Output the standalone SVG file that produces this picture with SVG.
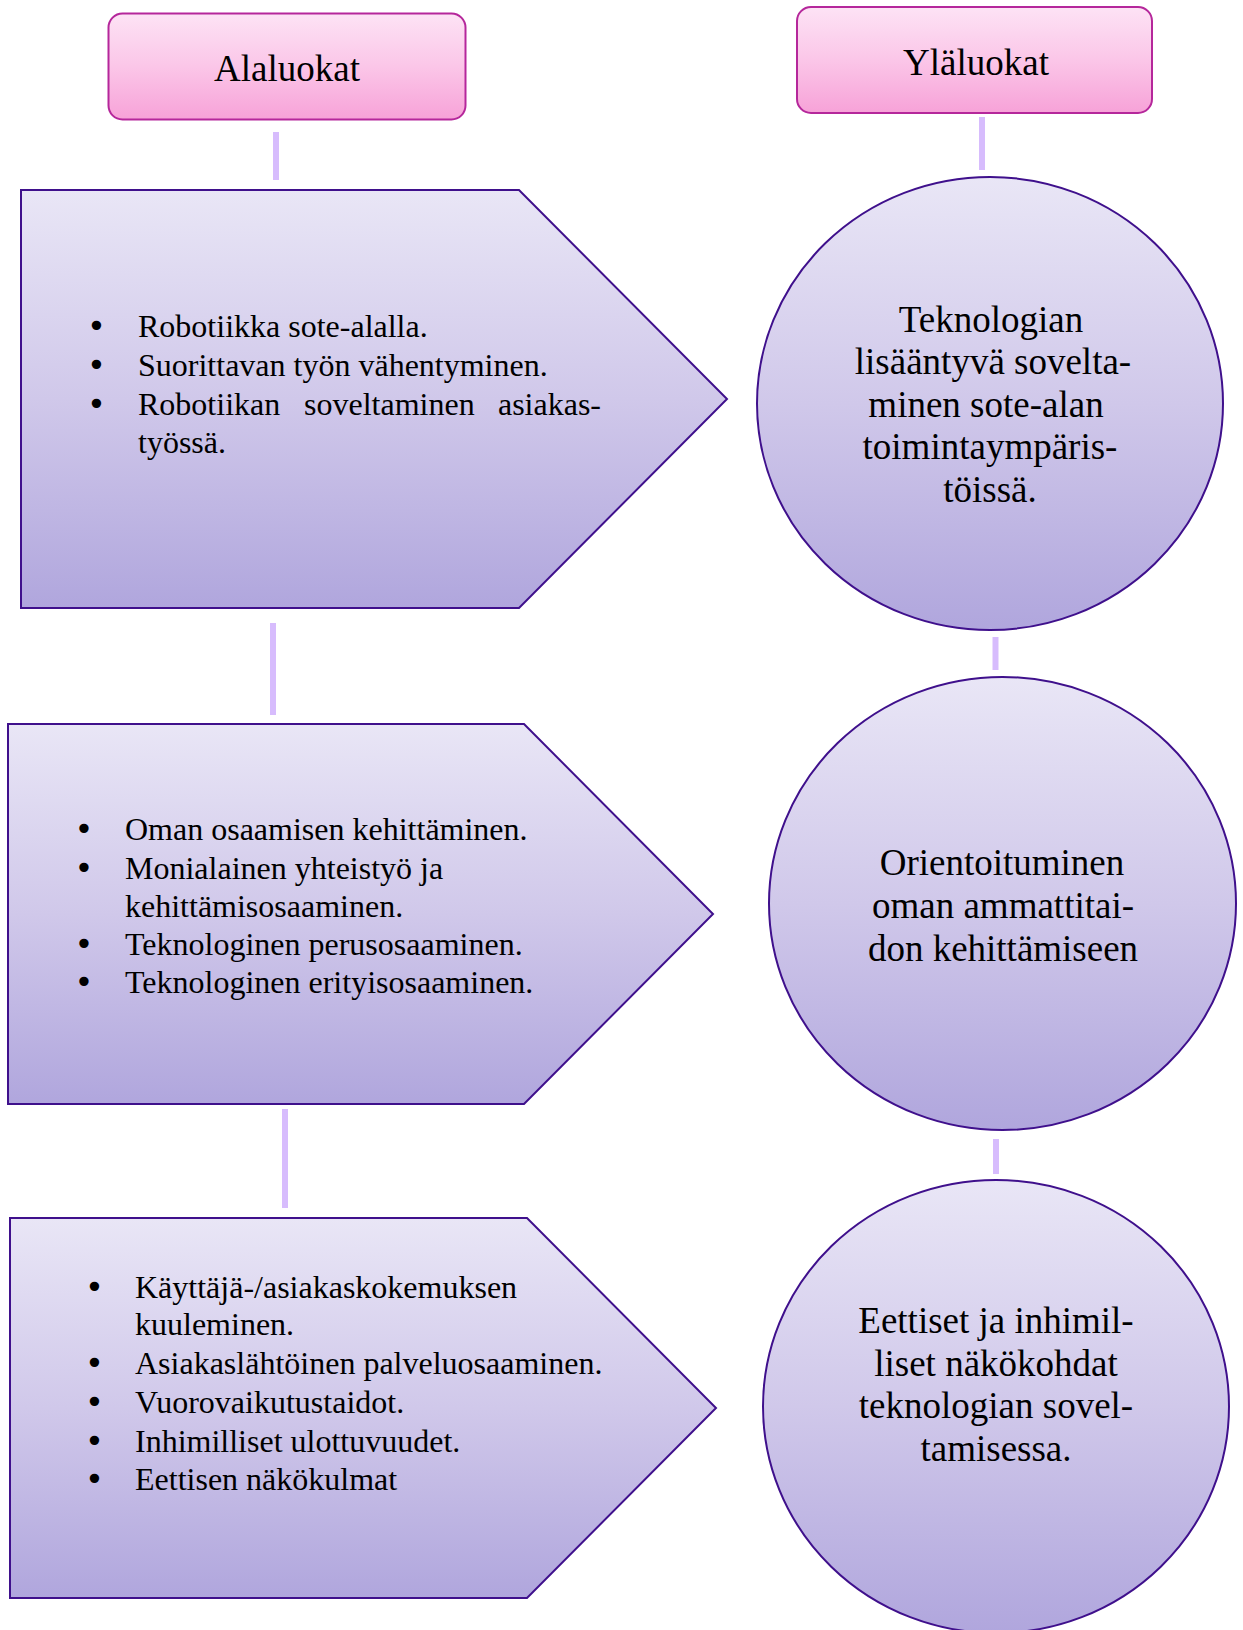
<svg xmlns="http://www.w3.org/2000/svg" width="1243" height="1630" viewBox="0 0 1243 1630">
<defs>
<linearGradient id="gPurple" x1="0" y1="0" x2="0" y2="1">
<stop offset="0" stop-color="#e9e6f6"/>
<stop offset="0.5" stop-color="#d0c8ea"/>
<stop offset="1" stop-color="#b0a6dd"/>
</linearGradient>
<linearGradient id="gPink" x1="0" y1="0" x2="0" y2="1">
<stop offset="0" stop-color="#fde3f5"/>
<stop offset="0.5" stop-color="#fbc6e8"/>
<stop offset="1" stop-color="#f7a2d8"/>
</linearGradient>
<style>
.hdr{fill:url(#gPink);stroke:#b5279b;stroke-width:2}
.shape{fill:url(#gPurple);stroke:#3f108c;stroke-width:2}
.conn{stroke:#d7bcfd;stroke-width:6;fill:none}
.t{font-family:"Liberation Serif","Times New Roman",serif;fill:#000}
.h{font-size:37px;text-anchor:middle}
.c{font-size:37px;text-anchor:middle}
.b{font-size:32px}
.d{font-family:"DejaVu Sans",sans-serif;font-size:32px}
</style>
</defs>
<rect width="1243" height="1630" fill="#ffffff"/>
<g id="connectors">
<line class="conn" x1="276" y1="132" x2="276" y2="180"/>
<line class="conn" x1="982" y1="117" x2="982" y2="170"/>
<line class="conn" x1="273" y1="623" x2="273" y2="715"/>
<line class="conn" x1="995.5" y1="637" x2="995.5" y2="670"/>
<line class="conn" x1="285" y1="1109" x2="285" y2="1208"/>
<line class="conn" x1="996" y1="1139" x2="996" y2="1174"/>
</g>
<g id="alaluokat">
<rect class="hdr" x="108.5" y="13.5" width="357" height="106" rx="14"/>
<text class="t h" x="287" y="81">Alaluokat</text>
</g>
<g id="ylaluokat">
<rect class="hdr" x="797" y="7" width="355" height="106" rx="14"/>
<text class="t h" x="976" y="75">Yläluokat</text>
</g>
<g id="sub1">
<polygon class="shape" points="21,190 519,190 727,399 519,608 21,608"/>
<text class="t b"><tspan class="d" x="87" y="337">•</tspan><tspan x="138" y="337">Robotiikka sote-alalla.</tspan></text>
<text class="t b"><tspan class="d" x="87" y="376">•</tspan><tspan x="138" y="376">Suorittavan työn vähentyminen.</tspan></text>
<text class="t b"><tspan class="d" x="87" y="415">•</tspan><tspan x="138" y="415">Robotiikan</tspan><tspan x="304" y="415">soveltaminen</tspan><tspan x="601" y="415" text-anchor="end">asiakas-</tspan></text>
<text class="t b" x="138" y="453">työssä.</text>
</g>
<g id="sub2">
<polygon class="shape" points="8,724 524,724 713,914 524,1104 8,1104"/>
<text class="t b"><tspan class="d" x="74.5" y="840">•</tspan><tspan x="125" y="840">Oman osaamisen kehittäminen.</tspan></text>
<text class="t b"><tspan class="d" x="74.5" y="879">•</tspan><tspan x="125" y="879">Monialainen yhteistyö ja</tspan></text>
<text class="t b" x="125" y="917">kehittämisosaaminen.</text>
<text class="t b"><tspan class="d" x="74.5" y="955">•</tspan><tspan x="125" y="955">Teknologinen perusosaaminen.</tspan></text>
<text class="t b"><tspan class="d" x="74.5" y="993">•</tspan><tspan x="125" y="993">Teknologinen erityisosaaminen.</tspan></text>
</g>
<g id="sub3">
<polygon class="shape" points="10,1218 527,1218 716,1408 527,1598 10,1598"/>
<text class="t b"><tspan class="d" x="85" y="1298">•</tspan><tspan x="135" y="1298">Käyttäjä-/asiakaskokemuksen</tspan></text>
<text class="t b" x="135" y="1335">kuuleminen.</text>
<text class="t b"><tspan class="d" x="85" y="1374">•</tspan><tspan x="135" y="1374">Asiakaslähtöinen palveluosaaminen.</tspan></text>
<text class="t b"><tspan class="d" x="85" y="1413">•</tspan><tspan x="135" y="1413">Vuorovaikutustaidot.</tspan></text>
<text class="t b"><tspan class="d" x="85" y="1452">•</tspan><tspan x="135" y="1452">Inhimilliset ulottuvuudet.</tspan></text>
<text class="t b"><tspan class="d" x="85" y="1490">•</tspan><tspan x="135" y="1490">Eettisen näkökulmat</tspan></text>
</g>
<g id="main1">
<ellipse class="shape" cx="990" cy="403.5" rx="233" ry="226.5"/>
<text class="t c" x="991" y="332">Teknologian</text>
<text class="t c" x="993" y="374">lisääntyvä sovelta-</text>
<text class="t c" x="986" y="417">minen sote-alan</text>
<text class="t c" x="990" y="459">toimintaympäris-</text>
<text class="t c" x="990" y="502">töissä.</text>
</g>
<g id="main2">
<ellipse class="shape" cx="1002.5" cy="903.5" rx="233.5" ry="226.5"/>
<text class="t c" x="1002" y="875">Orientoituminen</text>
<text class="t c" x="1003" y="918">oman ammattitai-</text>
<text class="t c" x="1003" y="961">don kehittämiseen</text>
</g>
<g id="main3">
<ellipse class="shape" cx="996" cy="1406.5" rx="233" ry="226.5"/>
<text class="t c" x="996" y="1333">Eettiset ja inhimil-</text>
<text class="t c" x="996" y="1376">liset näkökohdat</text>
<text class="t c" x="996" y="1418">teknologian sovel-</text>
<text class="t c" x="996" y="1461">tamisessa.</text>
</g>
</svg>
